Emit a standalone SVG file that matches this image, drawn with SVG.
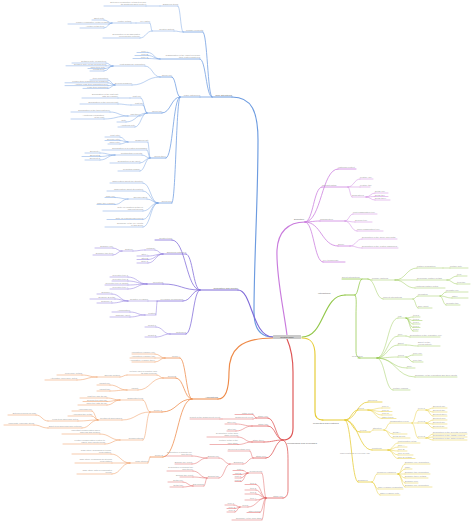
<svg xmlns="http://www.w3.org/2000/svg" width="474" height="525" viewBox="0 0 474 525">
<style>
path{fill:none;stroke-linecap:round}
.b{stroke:#6c9be0}.p{stroke:#7f6ad8}.o{stroke:#ee8a48}.r{stroke:#de5555}.y{stroke:#e6cb33}.g{stroke:#93c84b}.k{stroke:#c97bdd}
.w1{stroke-width:1.15}.w2{stroke-width:.75}.w3{stroke-width:.45}
text{font-family:"Liberation Sans",Arial,sans-serif;font-size:2.2px;fill:#9a9a9a}
.e{text-anchor:end}
.m{font-size:2.4px;fill:#666}
</style>
<rect width="474" height="525" fill="#fff"/>
<g id="connectors">
<g class="b">
<path class="w1" d="M273 337C262 337 254 330 254 312C254 260 258 200 258 140C258 112 252 97 232 97"/>
<path class="w2" d="M212 97C207.5 97 207.5 32 203 32M212 97C206 97 206 59 200 59M212 97H200"/>
<path class="w3" d="M183 32C180.5 32 180.5 6 178 6M160 6H146M183 32C178.5 32 178.5 31 174 31M152 31C151 31 151 23 150 23M136 23H131M112 23C108 23 108 20 104 20M112 23C110.5 23 110.5 24 109 24M112 23C108 23 108 28 104 28M152 31C146 31 146 38 140 38M160 59C154 59 154 52.5 148 52.5M160 59C154 59 154 55.5 148 55.5M160 59C154 59 154 58.5 148 58.5"/>
<path class="w2" d="M180 97C176 97 176 77 172 77M180 97C171 97 171 113 162 113M180 97C173 97 173 158 166 158M180 97C176 97 176 203 172 203"/>
<path class="w3" d="M160 77C152.5 77 152.5 66 145 66M160 77C146 77 146 85 132 85M113 66C109.5 66 109.5 63 106 63M113 66C109.5 66 109.5 65.8 106 65.8M113 66C109 66 109 68.5 105 68.5M113 66C108.5 66 108.5 71 104 71M115 85C111.5 85 111.5 80 108 80M115 85C111.5 85 111.5 82.8 108 82.8M115 85C111.5 85 111.5 85.6 108 85.6M115 85C111.5 85 111.5 88.4 108 88.4"/>
<path class="w3" d="M147 113C144 113 144 98 141 98M147 113C145 113 145 105 143 105M147 113C143.5 113 143.5 116 140 116M147 113C136.5 113 136.5 122 126 122M147 113C141 113 141 127 135 127M130 98H118M131 105C124.5 105 124.5 104 118 104M128 116C119 116 119 112 110 112M128 116C116 116 116 119 104 119"/>
<path class="w3" d="M150 158C149 158 149 142 148 142M150 158C148.5 158 148.5 150 147 150M150 158C146 158 146 155 142 155M150 158C145 158 145 163 140 163M150 158C145 158 145 171 140 171M128 142C124 142 124 137 120 137M128 142C124 142 124 140.5 120 140.5M128 142C124 142 124 144 120 144M115 155C107.5 155 107.5 153 100 153M115 155C107.5 155 107.5 156.5 100 156.5M115 155C107.5 155 107.5 160 100 160"/>
<path class="w3" d="M158 203C150.5 203 150.5 183 143 183M158 203C150.5 203 150.5 191 143 191M158 203C152.5 203 152.5 199 147 199M158 203C150.5 203 150.5 211 143 211M158 203C150.5 203 150.5 219.5 143 219.5M158 203C150.5 203 150.5 227 143 227M128 199C121.5 199 121.5 197.5 115 197.5M128 199C121.5 199 121.5 204.5 115 204.5"/>
</g>
<g class="p">
<path class="w1" d="M273 337C252 337 252 290 238 290"/>
<path class="w2" d="M200 290C186 290 186 240 172 240M200 290C193 290 193 254 186 254M200 290C181.5 290 181.5 284 163 284M200 290C191.5 290 191.5 301 183 301M200 290C193 290 193 334 186 334"/>
<path class="w3" d="M163 254C159 254 159 250 155 250M145 250C139 250 139 251 133 251M122 251C117.5 251 117.5 248 113 248M122 251C117.5 251 117.5 255 113 255M163 254C155.5 254 155.5 256 148 256M163 254C155.5 254 155.5 259.5 148 259.5M163 254C155.5 254 155.5 263 148 263M147 284C137.5 284 137.5 277 128 277M147 284C137.5 284 137.5 281 128 281M147 284C137.5 284 137.5 285 128 285M147 284C137.5 284 137.5 289 128 289M157 301H148M128 301C120 301 120 294 112 294M128 301C121.5 301 121.5 299 115 299M128 301C120 301 120 303 112 303M157 301C156.5 301 156.5 315 156 315M145 315C137.5 315 137.5 312 130 312M145 315C137.5 315 137.5 317 130 317M170 334C163 334 163 327 156 327M170 334C163 334 163 337 156 337"/>
</g>
<g class="o">
<path class="w1" d="M273 338C240 338 229 350 229 372C229 390 226 399 218 399"/>
<path class="w2" d="M192 399C186 399 186 358 180 358M192 399C184 399 184 378 176 378M192 399C177 399 177 412 162 412M192 399C177.5 399 177.5 457 163 457"/>
<path class="w3" d="M165 358C160 358 160 354 155 354M165 358H155M165 358C160 358 160 362 155 362M163 378C160 378 160 375 157 375M127 375C123.5 375 123.5 377 120 377M97 377C89.5 377 89.5 375 82 375M97 377C87 377 87 380 77 380M163 378C150.5 378 150.5 390 138 390M127 390C118.5 390 118.5 385 110 385M127 390C118.5 390 118.5 391 110 391"/>
<path class="w3" d="M150 412C146.5 412 146.5 400 143 400M120 400C113.5 400 113.5 398 107 398M120 400C113.5 400 113.5 401.5 107 401.5M120 400C113.5 400 113.5 405 107 405M150 412C136 412 136 420 122 420M98 420C95 420 95 411 92 411M98 420C95 420 95 416 92 416M98 420C88 420 88 421 78 421M98 420C90 420 90 428 82 428M48 421C42 421 42 415 36 415M48 428C41 428 41 425 34 425M150 412C146.5 412 146.5 440 143 440M120 440C110 440 110 434 100 434M120 440C112.5 440 112.5 444 105 444"/>
<path class="w3" d="M150 457C149 457 149 463 148 463M130 463C120.5 463 120.5 454 111 454M130 463H112M130 463C121 463 121 474 112 474"/>
</g>
<g class="r">
<path class="w1" d="M287 339C291 348 293 358 293 372V428C293 436 290 440 283 440"/>
<path class="w2" d="M283 440C275.5 440 275.5 418 268 418M283 440C275.5 440 275.5 426 268 426M283 440C273.5 440 273.5 442 264 442M283 440C274.5 440 274.5 458 266 458M283 440C288 442 288 452 288 462V490C288 495 286 498 283 498"/>
<path class="w3" d="M256 418C254.5 418 254.5 414.5 253 414.5M256 418C254.5 418 254.5 419 253 419M222 419H220M252 426C244 426 244 424 236 424M252 426C244 426 244 431 236 431M252 442C245 442 245 437 238 437M252 442C245 442 245 444.5 238 444.5M253 458C251.5 458 251.5 451 250 451M253 458C248 458 248 464 243 464M230 464C224.5 464 224.5 458 219 458M230 464C224.5 464 224.5 478 219 478M207 458C199.5 458 199.5 456 192 456M207 458C199.5 458 199.5 464 192 464M207 478C200 478 200 471 193 471M207 478C200 478 200 477 193 477M207 478C205.5 478 205.5 486 204 486M193 486C188 486 188 482 183 482M193 486C188 486 188 487 183 487"/>
<path class="w3" d="M266 498C264 498 264 473 262 473M248 473C245.5 473 245.5 470.5 243 470.5M248 473C244.5 473 244.5 474.5 241 474.5M248 473C244.5 473 244.5 478 241 478M248 473C244.5 473 244.5 481.5 241 481.5M266 498C261 498 261 484.5 256 484.5M266 498C261 498 261 490 256 490M266 498C261 498 261 494 256 494M266 498C261 498 261 500 256 500M266 498C257 498 257 507 248 507M240 507C237 507 237 505 234 505M240 507C237.5 507 237.5 508.5 235 508.5M240 507C237.5 507 237.5 512 235 512M266 498C263 498 263 512.5 260 512.5M266 498C264 498 264 520 262 520"/>
</g>
<g class="y">
<path class="w1" d="M302 338C311 338 315 343 315 355V412C315 417 318 420 323 420"/>
<path class="w2" d="M345 420C356.5 420 356.5 402 368 402M345 420C351.5 420 351.5 410 358 410M345 420C352.5 420 352.5 432 360 432M345 420C358.5 420 358.5 450 372 450M345 420C351.5 420 351.5 482 358 482"/>
<path class="w3" d="M368 410C375 410 375 408 382 408M368 410C375 410 375 411.5 382 411.5M368 410C375 410 375 415 382 415M368 410C375 410 375 418.5 382 418.5M370 432C371.5 432 371.5 430 373 430M384 430C387 430 387 423 390 423M412 423C415 423 415 410 418 410M412 423H418M412 423C415 423 415 438 418 438M426 410C429.5 410 429.5 408 433 408M426 410C429.5 410 429.5 412 433 412M426 410C429.5 410 429.5 416 433 416M426 423C429.5 423 429.5 420 433 420M426 423C429.5 423 429.5 424 433 424M426 423C429.5 423 429.5 428 433 428M426 438C429.5 438 429.5 434 433 434M426 438C429.5 438 429.5 437 433 437M426 438C429.5 438 429.5 440 433 440M384 430C388.5 430 388.5 434 393 434M384 430C388.5 430 388.5 438 393 438"/>
<path class="w3" d="M388 450C393 450 393 443 398 443M388 450C393 450 393 447 398 447M388 450C393 450 393 451 398 451M388 450C393 450 393 455 398 455M388 450C393 450 393 458.5 398 458.5M372 482C374.5 482 374.5 474 377 474M398 474C401.5 474 401.5 464 405 464M398 474C401.5 474 401.5 469 405 469M398 474H405M398 474C401.5 474 401.5 478 405 478M398 474C401.5 474 401.5 483 405 483M398 474C401.5 474 401.5 487 405 487M372 482C375 482 375 489 378 489M372 482C376 482 376 495 380 495"/>
</g>
<g class="g">
<path class="w1" d="M302 337C325 337 322 295 345 295"/>
<path class="w2" d="M355 295C358.5 295 358.5 279 362 279M355 295C357 297 356 305 356 315V350C356 355 357 358 360 358"/>
<path class="w3" d="M368 279C370 279 370 280 372 280M395 280C406 280 406 268 417 268M395 280H417M395 280C405 280 405 288 415 288M443 268H450M447 280C452 280 452 276 457 276M447 280C452 280 452 284 457 284M368 279C375.5 279 375.5 299 383 299M413 299C415.5 299 415.5 296 418 296M413 299C415.5 299 415.5 308 418 308M440 296C443 296 443 292 446 292M440 296C446 296 446 298 452 298M440 296C443 296 443 305 446 305"/>
<path class="w3" d="M377 358C387.5 358 387.5 318 398 318M377 358C387.5 358 387.5 336 398 336M377 358C387.5 358 387.5 345 398 345M377 358C387.5 358 387.5 357 398 357M377 358C392 358 392 368 407 368M377 358C396 358 396 377 415 377M377 358C385 358 385 390 393 390M406 318C409.5 318 409.5 317 413 317M406 318C409.5 318 409.5 320.5 413 320.5M406 318C409.5 318 409.5 324 413 324M406 318C409.5 318 409.5 327.5 413 327.5M406 318C409.5 318 409.5 331 413 331M406 336C408 336 408 337 410 337M406 345C412 345 412 346 418 346M406 357C409.5 357 409.5 355 413 355M406 357C409.5 357 409.5 362 413 362"/>
</g>
<g class="k">
<path class="w1" d="M287 335C283 305 276 275 277 250C278 232 288 222 305 222"/>
<path class="w2" d="M305 222C321.5 222 321.5 169 338 169M305 222C313.5 222 313.5 187 322 187M305 222C312.5 222 312.5 221 320 221M305 222C321.5 222 321.5 246 338 246M305 222C314 222 314 262 323 262"/>
<path class="w3" d="M348 187C354 187 354 179 360 179M348 187H360M348 187C350 187 350 197 352 197M366 197C370.5 197 370.5 193 375 193M366 197C370.5 197 370.5 196.5 375 196.5M366 197C370.5 197 370.5 200 375 200M345 221C349 221 349 214 353 214M345 221C350 221 350 222 355 222M345 221C351 221 351 231 357 231M350 246C356 246 356 239 362 239M350 246C356 246 356 248 362 248"/>
</g>
</g>

<g id="center"><rect x="273" y="335" width="28" height="4" rx=".5" fill="#cacaca"/><text x="287" y="337.9" text-anchor="middle" class="m" style="fill:#444;font-size:2.3px">Central Topic</text></g>

<!-- BLUE -->
<g id="b-main"><path class="b w1" d="M212 97H232"/><text class="e m" x="232" y="96.2">Core Structures</text></g>
<g id="b1"><path class="b w2" d="M183 32H203"/><text class="e" x="203" y="31.3">Primary elements</text></g>
<g id="b1a"><path class="b w3" d="M160 6H178"/><text class="e" x="178" y="5.3">Subgroup items</text></g>
<g id="b1a-l"><path class="b w3" d="M104 6H146"/><text class="e" x="146" y="2.9">Extended description of this item and<tspan x="146" dy="2.4">its additional short context</tspan></text></g>
<g id="b1b"><path class="b w3" d="M152 31H174"/><text class="e" x="174" y="30.3">Related factors</text></g>
<g id="b1b1"><path class="b w3" d="M136 23H150"/><text class="e" x="150" y="22.3">Key factor</text></g>
<g id="b1b1a"><path class="b w3" d="M112 23H131"/><text class="e" x="131" y="22.3">Factor details</text></g>
<g id="b1b1a-1"><path class="b w3" d="M92 20H104"/><text class="e" x="104" y="19.3">Short note</text></g>
<g id="b1b1a-2"><path class="b w3" d="M68 24H109"/><text class="e" x="109" y="23.3">Longer explanatory detail of factor</text></g>
<g id="b1b1a-3"><path class="b w3" d="M80 28H104"/><text class="e" x="104" y="27.3">Another detail item</text></g>
<g id="b1b2"><path class="b w3" d="M103 38H140"/><text class="e" x="140" y="34.9">Description of an associated<tspan x="140" dy="2.4">process and outcome</tspan></text></g>
<g id="b4"><path class="b w2" d="M160 59H200"/><text class="e" x="200" y="55.9">Classification of the main types and<tspan x="200" dy="2.4">their related subtypes</tspan></text></g>
<g id="b4-1"><path class="b w3" d="M137 52.5H148"/><text class="e" x="148" y="51.8">Type A</text></g>
<g id="b4-2"><path class="b w3" d="M135 55.5H148"/><text class="e" x="148" y="54.8">Type B</text></g>
<g id="b4-3"><path class="b w3" d="M133 58.5H148"/><text class="e" x="148" y="57.8">Type C</text></g>
<g id="b2"><path class="b w2" d="M180 97H200"/><text class="e" x="200" y="96.3">Major categories</text></g>
<g id="b2a"><path class="b w2" d="M160 77H172"/><text class="e" x="172" y="76.3">Group one</text></g>
<g id="b2a1"><path class="b w3" d="M113 66H145"/><text class="e" x="145" y="65.3">First subgroup description</text></g>
<g id="b2a1-1"><path class="b w3" d="M72 63H106"/><text class="e" x="106" y="62.3">Detailed note on first item</text></g>
<g id="b2a1-2"><path class="b w3" d="M66 65.8H106"/><text class="e" x="106" y="65.1">Detailed note on the second item</text></g>
<g id="b2a1-3"><path class="b w3" d="M88 68.5H105"/><text class="e" x="105" y="67.8">Third item note</text></g>
<g id="b2a1-4"><path class="b w3" d="M90 71H104"/><text class="e" x="104" y="70.3">Fourth item</text></g>
<g id="b2a2"><path class="b w3" d="M115 85H132"/><text class="e" x="132" y="84.3">Second subgroup</text></g>
<g id="b2a2-1"><path class="b w3" d="M90 80H108"/><text class="e" x="108" y="79.3">Item description</text></g>
<g id="b2a2-2"><path class="b w3" d="M65 82.8H108"/><text class="e" x="108" y="82.1">Longer item description for subgroup</text></g>
<g id="b2a2-3"><path class="b w3" d="M65 85.6H108"/><text class="e" x="108" y="84.9">Another long item description here</text></g>
<g id="b2a2-4"><path class="b w3" d="M83 88.4H108"/><text class="e" x="108" y="87.7">Final item description</text></g>
<g id="b2b"><path class="b w2" d="M147 113H162"/><text class="e" x="162" y="112.3">Group two</text></g>
<g id="b2b1"><path class="b w3" d="M130 98H141"/><text class="e" x="141" y="97.3">Part one</text></g>
<g id="b2b1-1"><path class="b w3" d="M82 98H118"/><text class="e" x="118" y="94.9">Explanation of the first part<tspan x="118" dy="2.4">with an example</tspan></text></g>
<g id="b2b2"><path class="b w3" d="M131 105H143"/><text class="e" x="143" y="104.3">Part two</text></g>
<g id="b2b2-1"><path class="b w3" d="M80 104H118"/><text class="e" x="118" y="103.3">Explanation of the second part</text></g>
<g id="b2b3"><path class="b w3" d="M128 116H140"/><text class="e" x="140" y="115.3">Part three</text></g>
<g id="b2b3-1"><path class="b w3" d="M71 112H110"/><text class="e" x="110" y="111.3">Explanation of the third part here</text></g>
<g id="b2b3-2"><path class="b w3" d="M71 119H104"/><text class="e" x="104" y="115.9">Additional explanation<tspan x="104" dy="2.4">of the part</tspan></text></g>
<g id="b2b-4"><path class="b w3" d="M117 122H126"/><text class="e" x="126" y="121.3">Note</text></g>
<g id="b2b-5"><path class="b w3" d="M118 127H135"/><text class="e" x="135" y="126.3">Additional note</text></g>
<g id="b2c"><path class="b w2" d="M150 158H166"/><text class="e" x="166" y="157.3">Group three</text></g>
<g id="b2c1"><path class="b w3" d="M128 142H148"/><text class="e" x="148" y="141.3">Subgroup list</text></g>
<g id="b2c1-1"><path class="b w3" d="M105 137H120"/><text class="e" x="120" y="136.3">First entry</text></g>
<g id="b2c1-2"><path class="b w3" d="M105 140.5H120"/><text class="e" x="120" y="139.8">Second entry</text></g>
<g id="b2c1-3"><path class="b w3" d="M108 144H120"/><text class="e" x="120" y="143.3">Third entry</text></g>
<g id="b2c-2"><path class="b w3" d="M102 150H147"/><text class="e" x="147" y="149.3">Explanation of a related mechanism</text></g>
<g id="b2c2"><path class="b w3" d="M115 155H142"/><text class="e" x="142" y="154.3">Contributing elements</text></g>
<g id="b2c2-1"><path class="b w3" d="M85 153H100"/><text class="e" x="100" y="152.3">Element A</text></g>
<g id="b2c2-2"><path class="b w3" d="M82 156.5H100"/><text class="e" x="100" y="155.8">Element B</text></g>
<g id="b2c2-3"><path class="b w3" d="M85 160H100"/><text class="e" x="100" y="159.3">Element C</text></g>
<g id="b2c-4"><path class="b w3" d="M110 163H140"/><text class="e" x="140" y="162.3">Description of an effect</text></g>
<g id="b2c-5"><path class="b w3" d="M118 171H140"/><text class="e" x="140" y="170.3">Resulting change</text></g>
<g id="b2d"><path class="b w2" d="M158 203H172"/><text class="e" x="172" y="202.3">Group four</text></g>
<g id="b2d-1"><path class="b w3" d="M110 183H143"/><text class="e" x="143" y="182.3">Observation about the structure</text></g>
<g id="b2d-2"><path class="b w3" d="M107 191H143"/><text class="e" x="143" y="190.3">Observation about its function</text></g>
<g id="b2d1"><path class="b w3" d="M128 199H147"/><text class="e" x="147" y="198.3">Special cases</text></g>
<g id="b2d1-1"><path class="b w3" d="M105 197.5H115"/><text class="e" x="115" y="196.8">Case one</text></g>
<g id="b2d1-2"><path class="b w3" d="M97 204.5H115"/><text class="e" x="115" y="203.8">Case two example</text></g>
<g id="b2d-4"><path class="b w3" d="M103 211H143"/><text class="e" x="143" y="207.9">Note on variation between<tspan x="143" dy="2.4">different groups</tspan></text></g>
<g id="b2d-5"><path class="b w3" d="M107 219.5H143"/><text class="e" x="143" y="218.8">Note on regional differences</text></g>
<g id="b2d-6"><path class="b w3" d="M105 227H143"/><text class="e" x="143" y="223.9">Summary of the key points<tspan x="143" dy="2.4">in this group</tspan></text></g>

<!-- PURPLE -->
<g id="p-main"><path class="p w1" d="M200 290H238"/><text class="e m" x="238" y="289.2">Regulation and Control</text></g>
<g id="p0"><path class="p w2" d="M155 240H172"/><text class="e" x="172" y="239.3">Related topic</text></g>
<g id="p1"><path class="p w2" d="M163 254H186"/><text class="e" x="186" y="253.3">Signalling pathways</text></g>
<g id="p1a"><path class="p w3" d="M145 250H155"/><text class="e" x="155" y="249.3">Pathway</text></g>
<g id="p1a1"><path class="p w3" d="M122 251H133"/><text class="e" x="133" y="250.3">Subtype</text></g>
<g id="p1a1-1"><path class="p w3" d="M95 248H113"/><text class="e" x="113" y="247.3">Example one</text></g>
<g id="p1a1-2"><path class="p w3" d="M93 255H113"/><text class="e" x="113" y="254.3">Example two item</text></g>
<g id="p1-2"><path class="p w3" d="M137 256H148"/><text class="e" x="148" y="255.3">Step A</text></g>
<g id="p1-3"><path class="p w3" d="M137 259.5H148"/><text class="e" x="148" y="258.8">Step B</text></g>
<g id="p1-4"><path class="p w3" d="M137 263H148"/><text class="e" x="148" y="262.3">Step C</text></g>
<g id="p2"><path class="p w2" d="M147 284H163"/><text class="e" x="163" y="283.3">Receptors</text></g>
<g id="p2-1"><path class="p w3" d="M110 277H128"/><text class="e" x="128" y="276.3">Receptor type 1</text></g>
<g id="p2-2"><path class="p w3" d="M112 281H128"/><text class="e" x="128" y="280.3">Receptor type 2</text></g>
<g id="p2-3"><path class="p w3" d="M105 285H128"/><text class="e" x="128" y="284.3">Receptor type 3 variant</text></g>
<g id="p2-4"><path class="p w3" d="M110 289H128"/><text class="e" x="128" y="288.3">Receptor type 4</text></g>
<g id="p3"><path class="p w2" d="M157 301H183"/><text class="e" x="183" y="300.3">Feedback mechanisms</text></g>
<g id="p3a"><path class="p w3" d="M128 301H148"/><text class="e" x="148" y="300.3">Negative feedback</text></g>
<g id="p3a-1"><path class="p w3" d="M97 294H112"/><text class="e" x="112" y="293.3">Example A</text></g>
<g id="p3a-2"><path class="p w3" d="M90 299H115"/><text class="e" x="115" y="298.3">Example B detail</text></g>
<g id="p3a-3"><path class="p w3" d="M97 303H112"/><text class="e" x="112" y="302.3">Example C</text></g>
<g id="p3b"><path class="p w3" d="M145 315H156"/><text class="e" x="156" y="314.3">Positive</text></g>
<g id="p3b-1"><path class="p w3" d="M112 312H130"/><text class="e" x="130" y="311.3">Amplification</text></g>
<g id="p3b-2"><path class="p w3" d="M110 317H130"/><text class="e" x="130" y="316.3">Cascade effect</text></g>
<g id="p4"><path class="p w2" d="M170 334H186"/><text class="e" x="186" y="333.3">Outcomes</text></g>
<g id="p4-1"><path class="p w3" d="M145 327H156"/><text class="e" x="156" y="326.3">Result 1</text></g>
<g id="p4-2"><path class="p w3" d="M145 337H156"/><text class="e" x="156" y="336.3">Result 2</text></g>

<!-- ORANGE -->
<g id="o-main"><path class="o w1" d="M192 399H218"/><text class="e m" x="218" y="398.2">Applications</text></g>
<g id="o1"><path class="o w2" d="M165 358H180"/><text class="e" x="180" y="357.3">Group A</text></g>
<g id="o1-1"><path class="o w3" d="M132 354H155"/><text class="e" x="155" y="353.3">Application example one</text></g>
<g id="o1-2"><path class="o w3" d="M130 358H155"/><text class="e" x="155" y="357.3">Application example two</text></g>
<g id="o1-3"><path class="o w3" d="M132 362H155"/><text class="e" x="155" y="361.3">Application example three</text></g>
<g id="o2"><path class="o w2" d="M163 378H176"/><text class="e" x="176" y="377.3">Group B</text></g>
<g id="o2a"><path class="o w3" d="M127 375H157"/><text class="e" x="157" y="371.9">Method used in practice and<tspan x="157" dy="2.4">its main purpose</tspan></text></g>
<g id="o2b"><path class="o w3" d="M97 377H120"/><text class="e" x="120" y="376.3">Specific method</text></g>
<g id="o2b-1"><path class="o w3" d="M57 375H82"/><text class="e" x="82" y="374.3">Procedure details</text></g>
<g id="o2b-2"><path class="o w3" d="M45 380H77"/><text class="e" x="77" y="379.3">Alternative procedure notes</text></g>
<g id="o2c"><path class="o w3" d="M127 390H138"/><text class="e" x="138" y="389.3">Variant</text></g>
<g id="o2c-1"><path class="o w3" d="M97 385H110"/><text class="e" x="110" y="384.3">Variant one</text></g>
<g id="o2c-2"><path class="o w3" d="M97 391H110"/><text class="e" x="110" y="390.3">Variant two</text></g>
<g id="o3"><path class="o w2" d="M150 412H162"/><text class="e" x="162" y="411.3">Group C</text></g>
<g id="o3a"><path class="o w3" d="M120 400H143"/><text class="e" x="143" y="399.3">Diagnostic tools</text></g>
<g id="o3a-1"><path class="o w3" d="M80 398H107"/><text class="e" x="107" y="397.3">First tool and its use</text></g>
<g id="o3a-2"><path class="o w3" d="M83 401.5H107"/><text class="e" x="107" y="400.8">Second tool and use</text></g>
<g id="o3a-3"><path class="o w3" d="M78 405H107"/><text class="e" x="107" y="404.3">Third tool with its use</text></g>
<g id="o3b"><path class="o w3" d="M98 420H122"/><text class="e" x="122" y="419.3">Treatment approaches</text></g>
<g id="o3b-1"><path class="o w3" d="M72 411H92"/><text class="e" x="92" y="410.3">Approach one</text></g>
<g id="o3b-2"><path class="o w3" d="M68 416H92"/><text class="e" x="92" y="415.3">Approach two detail</text></g>
<g id="o3b1"><path class="o w3" d="M48 421H78"/><text class="e" x="78" y="420.3">Long-term approach notes</text></g>
<g id="o3b1-1"><path class="o w3" d="M8 415H36"/><text class="e" x="36" y="414.3">Extended follow-up plan</text></g>
<g id="o3b2"><path class="o w3" d="M48 428H82"/><text class="e" x="82" y="427.3">Short-term approach and outcome</text></g>
<g id="o3b2-1"><path class="o w3" d="M4 425H34"/><text class="e" x="34" y="424.3">Immediate response steps</text></g>
<g id="o3c"><path class="o w3" d="M120 440H143"/><text class="e" x="143" y="439.3">Considerations</text></g>
<g id="o3c-1"><path class="o w3" d="M62 434H100"/><text class="e" x="100" y="430.9">Important consideration when<tspan x="100" dy="2.4">applying this method</tspan></text></g>
<g id="o3c-2"><path class="o w3" d="M63 444H105"/><text class="e" x="105" y="440.9">Further consideration related to<tspan x="105" dy="2.4">safety and effectiveness</tspan></text></g>
<g id="o4"><path class="o w2" d="M150 457H163"/><text class="e" x="163" y="456.3">Group D</text></g>
<g id="o4a"><path class="o w3" d="M130 463H148"/><text class="e" x="148" y="462.3">Case studies</text></g>
<g id="o4a-1"><path class="o w3" d="M72 454H111"/><text class="e" x="111" y="450.9">Case study describing a typical<tspan x="111" dy="2.4">presentation</tspan></text></g>
<g id="o4a-2"><path class="o w3" d="M75 463H112"/><text class="e" x="112" y="459.9">Case study describing an atypical<tspan x="112" dy="2.4">presentation</tspan></text></g>
<g id="o4a-3"><path class="o w3" d="M77 474H112"/><text class="e" x="112" y="470.9">Case study with a complicated<tspan x="112" dy="2.4">course</tspan></text></g>

<!-- RED -->
<g id="r-main"><text class="m" x="287" y="443.6">Mechanisms and Processes</text></g>
<g id="r1"><path class="r w2" d="M256 418H268"/><text class="e" x="268" y="417.3">Stage one</text></g>
<g id="r1-1"><path class="r w3" d="M235 414.5H253"/><text class="e" x="253" y="413.8">Initial event</text></g>
<g id="r1b"><path class="r w3" d="M222 419H253"/><text class="e" x="253" y="418.3">Subsequent event</text></g>
<g id="r1b-1"><path class="r w3" d="M190 419H220"/><text class="e" x="220" y="418.3">Result of the subsequent event</text></g>
<g id="r2"><path class="r w2" d="M252 426H268"/><text class="e" x="268" y="425.3">Stage two</text></g>
<g id="r2-1"><path class="r w3" d="M225 424H236"/><text class="e" x="236" y="423.3">Step one</text></g>
<g id="r2-2"><path class="r w3" d="M227 431H236"/><text class="e" x="236" y="430.3">Step two</text></g>
<g id="r3"><path class="r w2" d="M252 442H264"/><text class="e" x="264" y="441.3">Stage three</text></g>
<g id="r3-1"><path class="r w3" d="M207 437H238"/><text class="e" x="238" y="433.9">Description of the third<tspan x="238" dy="2.4">stage process</tspan></text></g>
<g id="r3-2"><path class="r w3" d="M210 444.5H238"/><text class="e" x="238" y="441.4">Further detail of the<tspan x="238" dy="2.4">third stage</tspan></text></g>
<g id="r4"><path class="r w2" d="M253 458H266"/><text class="e" x="266" y="457.3">Stage four</text></g>
<g id="r4-1"><path class="r w3" d="M228 451H250"/><text class="e" x="250" y="450.3">Overview of stage four</text></g>
<g id="r4a"><path class="r w3" d="M230 464H243"/><text class="e" x="243" y="463.3">Branches</text></g>
<g id="r4a1"><path class="r w3" d="M207 458H219"/><text class="e" x="219" y="457.3">Branch one</text></g>
<g id="r4a1-1"><path class="r w3" d="M165 456H192"/><text class="e" x="192" y="452.9">Description of branch one<tspan x="192" dy="2.4">and its role</tspan></text></g>
<g id="r4a1-2"><path class="r w3" d="M175 464H192"/><text class="e" x="192" y="463.3">Branch one result</text></g>
<g id="r4a2"><path class="r w3" d="M207 478H219"/><text class="e" x="219" y="477.3">Branch two</text></g>
<g id="r4a2-1"><path class="r w3" d="M167 471H193"/><text class="e" x="193" y="467.9">Description of branch two<tspan x="193" dy="2.4">and its role</tspan></text></g>
<g id="r4a2-2"><path class="r w3" d="M180 477H193"/><text class="e" x="193" y="476.3">Branch two result</text></g>
<g id="r4a2a"><path class="r w3" d="M193 486H204"/><text class="e" x="204" y="485.3">Sub-branch</text></g>
<g id="r4a2a-1"><path class="r w3" d="M168 482H183"/><text class="e" x="183" y="481.3">Detail one</text></g>
<g id="r4a2a-2"><path class="r w3" d="M170 487H183"/><text class="e" x="183" y="486.3">Detail two</text></g>
<g id="r5"><path class="r w2" d="M266 498H283"/><text class="e" x="283" y="497.3">Stage five</text></g>
<g id="r5a"><path class="r w3" d="M248 473H262"/><text class="e" x="262" y="472.3">Components</text></g>
<g id="r5a-1"><path class="r w3" d="M233 470.5H243"/><text class="e" x="243" y="469.8">Part A</text></g>
<g id="r5a-2"><path class="r w3" d="M233 474.5H241"/><text class="e" x="241" y="473.8">Part B</text></g>
<g id="r5a-3"><path class="r w3" d="M235 478H241"/><text class="e" x="241" y="477.3">Part C</text></g>
<g id="r5a-4"><path class="r w3" d="M235 481.5H241"/><text class="e" x="241" y="480.8">Part D</text></g>
<g id="r5-2"><path class="r w3" d="M245 484.5H256"/><text class="e" x="256" y="483.8">Item 1</text></g>
<g id="r5-3"><path class="r w3" d="M245 490H256"/><text class="e" x="256" y="489.3">Item 2</text></g>
<g id="r5-4"><path class="r w3" d="M245 494H256"/><text class="e" x="256" y="493.3">Item 3</text></g>
<g id="r5-5"><path class="r w3" d="M245 500H256"/><text class="e" x="256" y="499.3">Item 4</text></g>
<g id="r5b"><path class="r w3" d="M240 507H248"/><text class="e" x="248" y="506.3">Types</text></g>
<g id="r5b-1"><path class="r w3" d="M225 505H234"/><text class="e" x="234" y="504.3">Type 1</text></g>
<g id="r5b-2"><path class="r w3" d="M227 508.5H235"/><text class="e" x="235" y="507.8">Type 2</text></g>
<g id="r5b-3"><path class="r w3" d="M227 512H235"/><text class="e" x="235" y="511.3">Type 3</text></g>
<g id="r5-7"><path class="r w3" d="M247 512.5H260"/><text class="e" x="260" y="511.8">Other forms</text></g>
<g id="r5-8"><path class="r w3" d="M232 520H262"/><text class="e" x="262" y="519.3">Summary of the final stage</text></g>

<!-- YELLOW -->
<g id="y-main"><path class="y w1" d="M322 420H345"/><text class="m" x="313" y="423.8">Properties and Features</text></g>
<g id="y1"><path class="y w2" d="M368 402H382"/><text x="368" y="401.3">Overview</text></g>
<g id="y2"><path class="y w2" d="M358 410H368"/><text x="358" y="409.3">Types</text></g>
<g id="y2-1"><path class="y w3" d="M382 408H390"/><text x="382" y="407.3">Type 1</text></g>
<g id="y2-2"><path class="y w3" d="M382 411.5H392"/><text x="382" y="410.8">Type 2</text></g>
<g id="y2-3"><path class="y w3" d="M382 415H392"/><text x="382" y="414.3">Type 3</text></g>
<g id="y2-4"><path class="y w3" d="M382 418.5H396"/><text x="382" y="417.8">Other types</text></g>
<g id="y3"><path class="y w2" d="M360 432H370"/><text x="360" y="431.3">Levels</text></g>
<g id="y3a"><path class="y w3" d="M373 430H384"/><text x="373" y="429.3">Structure</text></g>
<g id="y3a1"><path class="y w3" d="M390 423H412"/><text x="390" y="422.3">Organisation levels</text></g>
<g id="y3a1a"><path class="y w3" d="M418 410H426"/><text x="418" y="409.3">Level 1</text></g>
<g id="y3a1a-1"><path class="y w3" d="M433 408H447"/><text x="433" y="407.3">Element one</text></g>
<g id="y3a1a-2"><path class="y w3" d="M433 412H447"/><text x="433" y="411.3">Element two</text></g>
<g id="y3a1a-3"><path class="y w3" d="M433 416H447"/><text x="433" y="415.3">Element three</text></g>
<g id="y3a1b"><path class="y w3" d="M418 423H426"/><text x="418" y="422.3">Level 2</text></g>
<g id="y3a1b-1"><path class="y w3" d="M433 420H447"/><text x="433" y="419.3">Element four</text></g>
<g id="y3a1b-2"><path class="y w3" d="M433 424H447"/><text x="433" y="423.3">Element five</text></g>
<g id="y3a1b-3"><path class="y w3" d="M433 428H447"/><text x="433" y="427.3">Element six</text></g>
<g id="y3a1c"><path class="y w3" d="M418 438H426"/><text x="418" y="437.3">Level 3</text></g>
<g id="y3a1c-1"><path class="y w3" d="M433 434H467"/><text x="433" y="433.3">Description of the seventh element</text></g>
<g id="y3a1c-2"><path class="y w3" d="M433 437H467"/><text x="433" y="436.3">Description of the eighth element</text></g>
<g id="y3a1c-3"><path class="y w3" d="M433 440H467"/><text x="433" y="439.3">Description of the ninth element</text></g>
<g id="y3a-2"><path class="y w3" d="M393 434H407"/><text x="393" y="433.3">Detail A</text></g>
<g id="y3a-3"><path class="y w3" d="M393 438H410"/><text x="393" y="437.3">Detail B note</text></g>
<g id="y4"><path class="y w2" d="M372 450H388"/><text x="372" y="449.3">Functions</text><text class="e" x="370" y="453.6">Main functions in everyday use</text></g>
<g id="y4-1"><path class="y w3" d="M398 443H420"/><text x="398" y="442.3">First function detail</text></g>
<g id="y4-2"><path class="y w3" d="M398 447H407"/><text x="398" y="446.3">Role A</text></g>
<g id="y4-3"><path class="y w3" d="M398 451H407"/><text x="398" y="450.3">Role B</text></g>
<g id="y4-4"><path class="y w3" d="M398 455H413"/><text x="398" y="454.3">Role C note</text></g>
<g id="y4-5"><path class="y w3" d="M398 458.5H415"/><text x="398" y="457.8">Role D details</text></g>
<g id="y5"><path class="y w2" d="M358 482H372"/><text x="358" y="481.3">Examples</text></g>
<g id="y5a"><path class="y w3" d="M377 474H398"/><text x="377" y="473.3">Common examples</text></g>
<g id="y5a-1"><path class="y w3" d="M405 464H430"/><text x="405" y="463.3">Example one description</text></g>
<g id="y5a-2"><path class="y w3" d="M405 469H412"/><text x="405" y="468.3">Case</text></g>
<g id="y5a-3"><path class="y w3" d="M405 474H430"/><text x="405" y="473.3">Example two description</text></g>
<g id="y5a-4"><path class="y w3" d="M405 478H428"/><text x="405" y="477.3">Example three details</text></g>
<g id="y5a-5"><path class="y w3" d="M405 483H418"/><text x="405" y="482.3">Example four</text></g>
<g id="y5a-6"><path class="y w3" d="M405 487H432"/><text x="405" y="486.3">Example five description</text></g>
<g id="y5-2"><path class="y w3" d="M378 489H403"/><text x="378" y="488.3">Rare example description</text></g>
<g id="y5-3"><path class="y w3" d="M380 495H400"/><text x="380" y="494.3">Other example note</text></g>

<!-- GREEN -->
<g id="g-main"><path class="g w1" d="M345 295H355"/><text class="m" x="318" y="293.6">Interactions</text></g>
<g id="g1"><path class="g w2" d="M342 279H368"/><text x="342" y="278.3">Direct interactions</text></g>
<g id="g1a"><path class="g w3" d="M372 280H395"/><text x="372" y="279.3">Primary partners</text></g>
<g id="g1a1"><path class="g w3" d="M417 268H443"/><text x="417" y="267.3">Partner description</text></g>
<g id="g1a1-1"><path class="g w3" d="M450 268H468"/><text x="450" y="267.3">Further note</text></g>
<g id="g1a2"><path class="g w3" d="M417 280H447"/><text x="417" y="279.3">Secondary partner details</text></g>
<g id="g1a2-1"><path class="g w3" d="M457 276H467"/><text x="457" y="275.3">Item</text></g>
<g id="g1a2-2"><path class="g w3" d="M457 284H470"/><text x="457" y="283.3">Item two</text></g>
<g id="g1a-3"><path class="g w3" d="M415 288H445"/><text x="415" y="287.3">Additional partner notes</text></g>
<g id="g1b"><path class="g w3" d="M383 299H413"/><text x="383" y="298.3">Indirect interactions</text></g>
<g id="g1b1"><path class="g w3" d="M418 296H440"/><text x="418" y="295.3">Mediators</text></g>
<g id="g1b1-1"><path class="g w3" d="M446 292H468"/><text x="446" y="291.3">Mediator one</text></g>
<g id="g1b1-2"><path class="g w3" d="M452 298H468"/><text x="452" y="297.3">Other</text></g>
<g id="g1b1-3"><path class="g w3" d="M446 305H460"/><text x="446" y="304.3">Mediator two</text></g>
<g id="g1b-2"><path class="g w3" d="M418 308H432"/><text x="418" y="307.3">Side effect</text></g>
<g id="g2"><path class="g w2" d="M358 358H377"/><text x="352" y="357.3">Regulators</text></g>
<g id="g2a"><path class="g w3" d="M398 318H406"/><text x="398" y="317.3">List</text></g>
<g id="g2a-1"><path class="g w3" d="M413 317H420"/><text x="413" y="316.3">Item a</text></g>
<g id="g2a-2"><path class="g w3" d="M413 320.5H422"/><text x="413" y="319.8">Item b</text></g>
<g id="g2a-3"><path class="g w3" d="M413 324H420"/><text x="413" y="323.3">Item c</text></g>
<g id="g2a-4"><path class="g w3" d="M413 327.5H420"/><text x="413" y="326.8">Item d</text></g>
<g id="g2a-5"><path class="g w3" d="M413 331H418"/><text x="413" y="330.3">Item e</text></g>
<g id="g2b"><path class="g w3" d="M398 336H406"/><text x="398" y="335.3">Role</text></g>
<g id="g2b-1"><path class="g w3" d="M410 337H440"/><text x="410" y="336.3">Description of the regulatory role</text></g>
<g id="g2c"><path class="g w3" d="M398 345H406"/><text x="398" y="344.3">Effect</text></g>
<g id="g2c-1"><path class="g w3" d="M418 346H440"/><text x="418" y="342.9">Effect on the<tspan x="418" dy="2.4">overall activity</tspan></text></g>
<g id="g2d"><path class="g w3" d="M398 357H406"/><text x="398" y="356.3">Types</text></g>
<g id="g2d-1"><path class="g w3" d="M413 355H422"/><text x="413" y="354.3">Type one</text></g>
<g id="g2d-2"><path class="g w3" d="M413 362H423"/><text x="413" y="361.3">Type two</text></g>
<g id="g2-5"><path class="g w3" d="M407 368H415"/><text x="407" y="367.3">Note</text></g>
<g id="g2-6"><path class="g w3" d="M415 377H457"/><text x="415" y="376.3">Summary of the regulators and their effects</text></g>
<g id="g2-7"><path class="g w3" d="M393 390H410"/><text x="393" y="389.3">Further reading</text></g>

<!-- PINK -->
<g id="k-main"><text class="e m" x="304" y="220.4">Definition</text></g>
<g id="k1"><path class="k w2" d="M338 169H356"/><text x="338" y="168.3">Historical context</text></g>
<g id="k2"><path class="k w2" d="M322 187H348"/><text x="322" y="186.3">Characteristics</text></g>
<g id="k2-1"><path class="k w3" d="M360 179H373"/><text x="360" y="178.3">Feature one</text></g>
<g id="k2-2"><path class="k w3" d="M360 187H370"/><text x="360" y="186.3">Feature two</text></g>
<g id="k2a"><path class="k w3" d="M352 197H366"/><text x="352" y="196.3">Subfeatures</text></g>
<g id="k2a-1"><path class="k w3" d="M375 193H388"/><text x="375" y="192.3">Detail one</text></g>
<g id="k2a-2"><path class="k w3" d="M375 196.5H388"/><text x="375" y="195.8">Detail two</text></g>
<g id="k2a-3"><path class="k w3" d="M375 200H390"/><text x="375" y="199.3">Detail three</text></g>
<g id="k3"><path class="k w2" d="M320 221H345"/><text x="320" y="220.3">Classification</text></g>
<g id="k3-1"><path class="k w3" d="M353 214H377"/><text x="353" y="213.3">First classification type</text></g>
<g id="k3-2"><path class="k w3" d="M355 222H372"/><text x="355" y="221.3">Second type</text></g>
<g id="k3-3"><path class="k w3" d="M357 231H383"/><text x="357" y="230.3">Third classification type</text></g>
<g id="k4"><path class="k w2" d="M338 246H350"/><text x="338" y="245.3">Scope</text></g>
<g id="k4-1"><path class="k w3" d="M362 239H397"/><text x="362" y="238.3">Description of the scope and limits</text></g>
<g id="k4-2"><path class="k w3" d="M362 248H398"/><text x="362" y="247.3">Description of the related disciplines</text></g>
<g id="k5"><path class="k w2" d="M323 262H345"/><text x="323" y="261.3">Key terminology</text></g>
</svg>
